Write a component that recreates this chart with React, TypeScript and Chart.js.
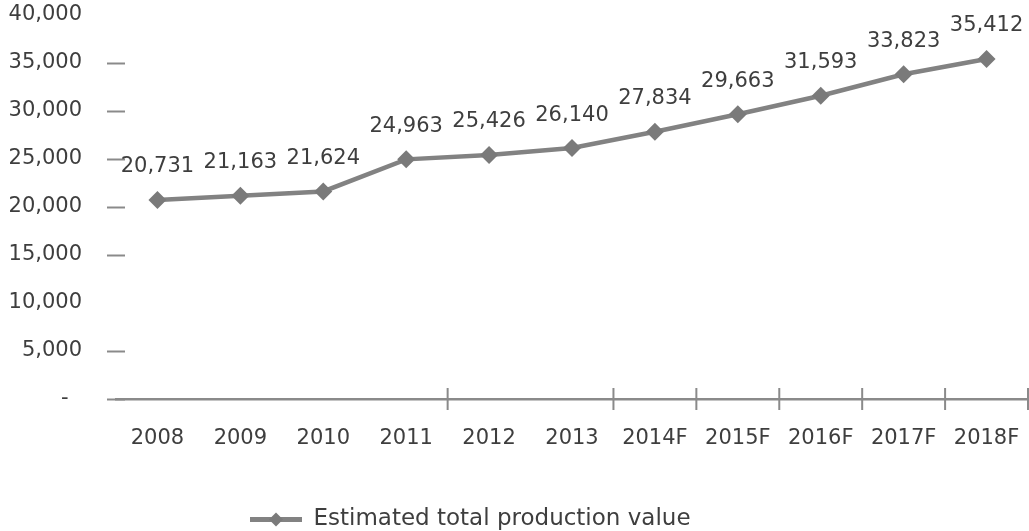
import React, { useEffect, useRef } from 'react';
import { Chart, registerables } from 'chart.js';

Chart.register(...registerables);

const categories = ['2008', '2009', '2010', '2011', '2012', '2013', '2014F', '2015F', '2016F', '2017F', '2018F'];
const productionValues = [20731, 21163, 21624, 24963, 25426, 26140, 27834, 29663, 31593, 33823, 35412];
const seriesLabel = 'Estimated total production value';
const yMin = 0;
const yMax = 40000;
const yStep = 5000;
// tick marks that are visible in the reference
const yCrossTickValues = [0, 5000, 15000, 20000, 25000, 30000, 35000];
const xCrossTickBoundaries = [4, 6, 7, 8, 9, 10, 11];

const FONT = 'DejaVu Sans';
const TEXT = '#3e3e3e';
const LINE = '#828282';
const AXIS = '#8a8a8a';

const fmt = (v: number) => v.toLocaleString('en-US');

const decorPlugin = {
  id: 'decor',
  afterLayout(chart: any) {
    const lg = chart.legend;
    if (lg) {
      const h = lg.height;
      lg.left = 247;
      lg.top = 505;
      lg.bottom = lg.top + h;
    }
  },
  beforeDatasetsDraw(chart: any) {
    const ctx = chart.ctx;
    const x = chart.scales.x;
    const y = chart.scales.y;
    ctx.save();
    ctx.strokeStyle = AXIS;
    ctx.lineWidth = 2;
    const left = chart.chartArea.left;
    for (const v of yCrossTickValues) {
      const py = Math.round(y.getPixelForValue(v)) + 0.5;
      ctx.beginPath();
      ctx.moveTo(left - 9, py);
      ctx.lineTo(left + 9, py);
      ctx.stroke();
    }
    const half = (x.getPixelForValue(1) - x.getPixelForValue(0)) / 2;
    const base = chart.chartArea.bottom;
    for (const b of xCrossTickBoundaries) {
      const px = b < categories.length ? x.getPixelForValue(b) - half : x.getPixelForValue(categories.length - 1) + half;
      ctx.beginPath();
      ctx.moveTo(px, base - 11);
      ctx.lineTo(px, base + 11);
      ctx.stroke();
    }
    ctx.restore();
  },
  afterDatasetsDraw(chart: any) {
    const ctx = chart.ctx;
    const meta = chart.getDatasetMeta(0);
    const data = chart.data.datasets[0].data as number[];
    ctx.save();
    ctx.font = `21px "${FONT}"`;
    ctx.fillStyle = TEXT;
    ctx.textAlign = 'center';
    ctx.textBaseline = 'middle';
    meta.data.forEach((pt: any, i: number) => {
      ctx.fillText(fmt(data[i]), pt.x, pt.y - 33);
    });
    ctx.restore();
  },
  afterDraw(chart: any) {
    const lg = chart.legend;
    if (!lg || !lg.legendHitBoxes || !lg.legendHitBoxes.length) return;
    const ctx = chart.ctx;
    const hb = lg.legendHitBoxes[0];
    const boxW = 52;
    const cx = hb.left + boxW / 2;
    const cy = hb.top + hb.height / 2;
    ctx.save();
    ctx.fillStyle = '#7a7a7a';
    ctx.beginPath();
    const r = 7;
    ctx.moveTo(cx, cy - r);
    ctx.lineTo(cx + r, cy);
    ctx.lineTo(cx, cy + r);
    ctx.lineTo(cx - r, cy);
    ctx.closePath();
    ctx.fill();
    ctx.restore();
  },
};

export default function App() {
  const ref = useRef<HTMLCanvasElement>(null);
  useEffect(() => {
    if (!ref.current) return;
    const chart = new Chart(ref.current, {
      type: 'line',
      data: {
        labels: categories,
        datasets: [
          {
            label: seriesLabel,
            data: productionValues,
            borderColor: LINE,
            backgroundColor: LINE,
            borderWidth: 4.5,
            tension: 0,
            pointStyle: 'rectRot',
            pointRadius: 9,
            pointHoverRadius: 9,
            pointBackgroundColor: '#7a7a7a',
            pointBorderColor: '#7a7a7a',
            pointBorderWidth: 0,
          },
        ],
      },
      options: {
        animation: false,
        responsive: true,
        maintainAspectRatio: false,
        layout: { padding: { top: 15, right: 1, left: 0, bottom: 0 }, autoPadding: false },
        scales: {
          x: {
            offset: true,
            grid: { display: false, drawTicks: false },
            border: { display: true, color: AXIS, width: 2.5 },
            ticks: { color: TEXT, font: { family: FONT, size: 21 }, padding: 27, maxRotation: 0, autoSkip: false },
            afterFit: (scale: any) => {
              const lgH = scale.chart.legend ? scale.chart.legend.height : 38;
              scale.height = 531 - 399 - lgH;
              scale.paddingLeft = 0;
              scale.paddingRight = 0;
            },
          },
          y: {
            min: yMin,
            max: yMax,
            grid: { display: false, drawTicks: false },
            border: { display: false },
            ticks: {
              stepSize: yStep,
              color: TEXT,
              font: { family: FONT, size: 21 },
              padding: 34,
              callback: (v: any) => (Number(v) === 0 ? '-  ' : fmt(Number(v))),
            },
            afterFit: (scale: any) => {
              scale.width = 116;
              scale.paddingTop = 0;
              scale.paddingBottom = 0;
            },
          },
        },
        plugins: {
          tooltip: { enabled: false },
          legend: {
            display: true,
            position: 'bottom',
            align: 'start',
            labels: {
              boxWidth: 52,
              boxHeight: 5,
              padding: 3,
              color: TEXT,
              font: { family: FONT, size: 23 },
              generateLabels: (chart: any) =>
                (Chart.defaults.plugins.legend.labels as any).generateLabels(chart).map((l: any) => ({
                  ...l,
                  lineWidth: 0,
                  fillStyle: LINE,
                })),
            },
          },
        },
      },
      plugins: [decorPlugin],
    } as any);
    return () => chart.destroy();
  }, []);
  return (
    <div style={{ position: 'absolute', left: 0, top: 0, width: 1029, height: 531 }}>
      <canvas ref={ref} />
    </div>
  );
}
